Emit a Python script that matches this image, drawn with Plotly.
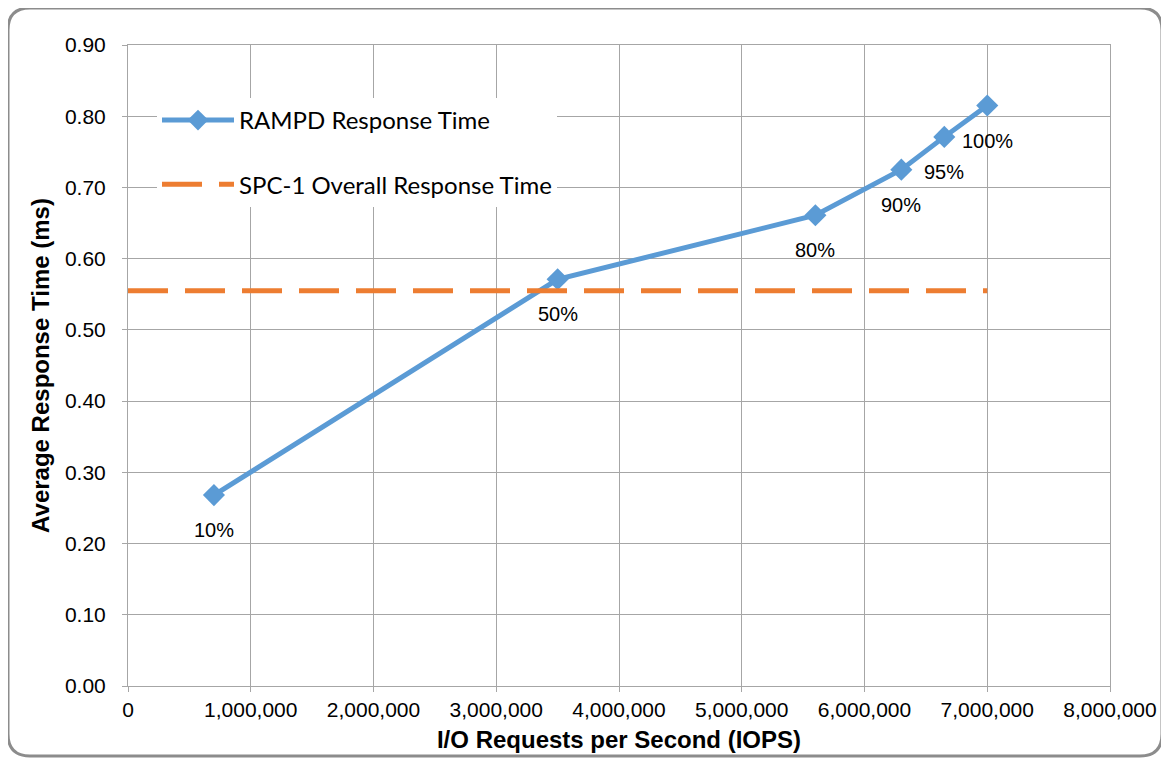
import plotly.graph_objects as go

# ---- data ----
iops = [700000, 3500000, 5600000, 6300000, 6650000, 7000000]
resp_ms = [0.268, 0.571, 0.661, 0.725, 0.771, 0.815]
load_labels = ["10%", "50%", "80%", "90%", "95%", "100%"]
spc_x = [0, 7000000]
spc_y = [0.555, 0.555]
series_names = ["RAMPD Response Time", "SPC-1 Overall Response Time"]

# page is rendered with an 8px body margin
OFF = 8
PAGE_W, PAGE_H = 1169, 759
W, H = PAGE_W - OFF, PAGE_H - OFF
PL, PR, PT, PB = 128, 1110, 45, 686          # plot area in page pixels
L, T = PL - OFF, PT - OFF
R, B = PAGE_W - PR, PAGE_H - PB
PW, PH = PR - PL, PB - PT

def fx(px):
    return (px - PL) / PW

def fy(py):
    return (PB - py) / PH

BLUE = "#5B9BD5"
ORANGE = "#ED7D31"
GRID = "#A6A6A6"
ARIAL = "Liberation Sans, Arial"

fig = go.Figure()
fig.add_trace(go.Scatter(
    x=iops, y=resp_ms, mode="lines+markers", name=series_names[0],
    line=dict(color=BLUE, width=5),
    marker=dict(symbol="diamond", size=17, color=BLUE),
    legendgroup="a",
))
fig.add_trace(go.Scatter(
    x=spc_x, y=spc_y, mode="lines", name=series_names[1],
    line=dict(color=ORANGE, width=5, dash="40px,17px"),
    legendgroup="b",
))

for xv, yv, lab in zip(iops, resp_ms, load_labels):
    fig.add_annotation(x=xv, y=yv, text=lab, showarrow=False, yshift=-35,
                       font=dict(family=ARIAL, size=20, color="#000"))

# rounded border around the whole picture
x0, x1 = fx(8), fx(1162)
y0, y1 = fy(756), fy(8)
rx, ry = 22 / PW, 22 / PH
path = (f"M {x0+rx},{y1} L {x1-rx},{y1} Q {x1},{y1} {x1},{y1-ry} "
        f"L {x1},{y0+ry} Q {x1},{y0} {x1-rx},{y0} "
        f"L {x0+rx},{y0} Q {x0},{y0} {x0},{y0+ry} "
        f"L {x0},{y1-ry} Q {x0},{y1} {x0+rx},{y1} Z")
fig.add_shape(type="path", path=path, xref="paper", yref="paper",
              line=dict(color="#8C8C8C", width=3), layer="above")

axis_common = dict(
    showgrid=True, gridcolor=GRID, gridwidth=1,
    showline=True, linecolor=GRID, linewidth=1, mirror=True,
    ticks="outside", ticklen=5, tickcolor=GRID,
    zeroline=False,
    tickfont=dict(family=ARIAL, size=21, color="#000"),
)

fig.update_layout(
    width=W, height=H,
    margin=dict(l=L, r=R, t=T, b=B),
    paper_bgcolor="white", plot_bgcolor="white",
    xaxis=dict(range=[0, 8000000], dtick=1000000, tickformat=",d",
               title=dict(text="I/O Requests per Second (IOPS)", standoff=10,
                          font=dict(family=ARIAL, size=24, color="#000", weight="bold")),
               **axis_common),
    yaxis=dict(range=[0, 0.9], dtick=0.1, tickformat=".2f",
               ticklabelstandoff=12,
               title=dict(text="Average Response Time (ms)", standoff=8,
                          font=dict(family=ARIAL, size=24, color="#000", weight="bold")),
               **axis_common),
    legend=dict(x=fx(157), y=fy(98), xanchor="left", yanchor="top",
                bgcolor="white", borderwidth=0,
                font=dict(family="Lato, Carlito, Calibri", size=24, color="#000"),
                traceorder="grouped", tracegroupgap=30,
                itemwidth=72),
    showlegend=True,
)

fig.write_html("out.html")
